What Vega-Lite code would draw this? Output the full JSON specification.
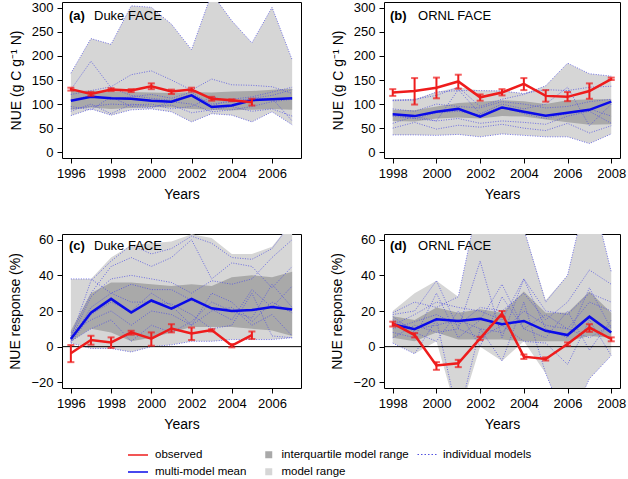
{
"$schema": "https://vega.github.io/schema/vega-lite/v6.json",
"padding": {"left": 8, "top": 1, "right": 4, "bottom": 2},
"background": "white",
"columns": 2,
"spacing": {"row": 76, "column": 83},
"bounds": "flush",
"resolve": {"scale": {"color": "shared", "fill": "shared", "stroke": "shared", "x": "independent", "y": "independent"}, "legend": {"color": "shared", "fill": "shared", "stroke": "shared"}},
"data": {"values": [
{"p":"a","year":1996,"lo":76,"hi":164,"q1":88,"q3":127,"mean":107,"obs":131,"olo":128,"ohi":134,"m1":164,"m2":130,"m3":120,"m4":76,"m5":85,"m6":95,"m7":108,"m8":90},
{"p":"a","year":1997,"lo":90,"hi":236,"q1":93,"q3":128,"mean":115,"obs":121,"olo":117,"ohi":125,"m1":236,"m2":189,"m3":128,"m4":90,"m5":100,"m6":88,"m7":118,"m8":95},
{"p":"a","year":1998,"lo":77,"hi":224,"q1":90,"q3":126,"mean":112,"obs":130,"olo":127,"ohi":133,"m1":224,"m2":134,"m3":136,"m4":77,"m5":80,"m6":115,"m7":110,"m8":100},
{"p":"a","year":1999,"lo":88,"hi":304,"q1":92,"q3":125,"mean":111,"obs":128,"olo":125,"ohi":131,"m1":304,"m2":118,"m3":161,"m4":88,"m5":100,"m6":95,"m7":115,"m8":98},
{"p":"a","year":2000,"lo":90,"hi":301,"q1":94,"q3":124,"mean":107,"obs":137,"olo":131,"ohi":143,"m1":301,"m2":112,"m3":169,"m4":90,"m5":95,"m6":92,"m7":120,"m8":100},
{"p":"a","year":2001,"lo":84,"hi":266,"q1":93,"q3":123,"mean":105,"obs":126,"olo":121,"ohi":130,"m1":266,"m2":108,"m3":150,"m4":84,"m5":98,"m6":105,"m7":112,"m8":90},
{"p":"a","year":2002,"lo":63,"hi":213,"q1":90,"q3":125,"mean":118,"obs":130,"olo":126,"ohi":134,"m1":213,"m2":120,"m3":129,"m4":63,"m5":82,"m6":100,"m7":125,"m8":95},
{"p":"a","year":2003,"lo":80,"hi":330,"q1":88,"q3":124,"mean":94,"obs":111,"olo":107,"ohi":115,"m1":330,"m2":100,"m3":152,"m4":80,"m5":88,"m6":84,"m7":96,"m8":115},
{"p":"a","year":2004,"lo":77,"hi":273,"q1":87,"q3":126,"mean":97,"obs":108,"olo":106,"ohi":110,"m1":273,"m2":105,"m3":140,"m4":77,"m5":95,"m6":88,"m7":110,"m8":105},
{"p":"a","year":2005,"lo":63,"hi":227,"q1":88,"q3":127,"mean":108,"obs":104,"olo":97,"ohi":111,"m1":227,"m2":112,"m3":139,"m4":63,"m5":85,"m6":95,"m7":115,"m8":110},
{"p":"a","year":2006,"lo":84,"hi":301,"q1":90,"q3":130,"mean":110,"m1":301,"m2":118,"m3":136,"m4":84,"m5":90,"m6":105,"m7":125,"m8":112},
{"p":"a","year":2007,"lo":57,"hi":192,"q1":88,"q3":132,"mean":112,"m1":192,"m2":130,"m3":122,"m4":57,"m5":75,"m6":110,"m7":135,"m8":65},
{"p":"b","year":1998,"lo":36,"hi":110,"q1":65,"q3":88,"mean":79,"obs":124,"olo":117,"ohi":131,"m1":36,"m2":50,"m3":108,"m4":80,"m5":107,"m6":75,"m7":90,"m8":60},
{"p":"b","year":1999,"lo":36,"hi":110,"q1":64,"q3":87,"mean":75,"obs":127,"olo":99,"ohi":154,"m1":36,"m2":62,"m3":110,"m4":70,"m5":108,"m6":70,"m7":85,"m8":75},
{"p":"b","year":2000,"lo":35,"hi":125,"q1":70,"q3":95,"mean":84,"obs":134,"olo":112,"ohi":155,"m1":35,"m2":48,"m3":118,"m4":65,"m5":125,"m6":82,"m7":100,"m8":65},
{"p":"b","year":2001,"lo":37,"hi":135,"q1":72,"q3":102,"mean":90,"obs":147,"olo":132,"ohi":161,"m1":37,"m2":56,"m3":135,"m4":130,"m5":128,"m6":85,"m7":95,"m8":70},
{"p":"b","year":2002,"lo":32,"hi":128,"q1":70,"q3":105,"mean":74,"obs":114,"olo":107,"ohi":120,"m1":32,"m2":52,"m3":95,"m4":80,"m5":128,"m6":78,"m7":92,"m8":60},
{"p":"b","year":2003,"lo":38,"hi":128,"q1":75,"q3":108,"mean":93,"obs":124,"olo":118,"ohi":131,"m1":38,"m2":58,"m3":110,"m4":100,"m5":127,"m6":95,"m7":105,"m8":65},
{"p":"b","year":2004,"lo":35,"hi":122,"q1":74,"q3":106,"mean":84,"obs":142,"olo":129,"ohi":154,"m1":35,"m2":50,"m3":120,"m4":90,"m5":122,"m6":80,"m7":100,"m8":62},
{"p":"b","year":2005,"lo":32,"hi":138,"q1":68,"q3":100,"mean":76,"obs":117,"olo":105,"ohi":129,"m1":32,"m2":45,"m3":138,"m4":100,"m5":130,"m6":70,"m7":92,"m8":58},
{"p":"b","year":2006,"lo":32,"hi":185,"q1":62,"q3":108,"mean":82,"obs":115,"olo":106,"ohi":125,"m1":32,"m2":60,"m3":185,"m4":135,"m5":128,"m6":80,"m7":95,"m8":75},
{"p":"b","year":2007,"lo":18,"hi":163,"q1":57,"q3":110,"mean":88,"obs":127,"olo":111,"ohi":143,"m1":18,"m2":40,"m3":163,"m4":55,"m5":135,"m6":90,"m7":105,"m8":85},
{"p":"b","year":2008,"lo":38,"hi":158,"q1":58,"q3":110,"mean":105,"obs":152,"olo":150,"ohi":155,"m1":38,"m2":55,"m3":158,"m4":100,"m5":137,"m6":75,"m7":110,"m8":60},
{"p":"c","year":1996,"lo":2,"hi":38,"q1":3,"q3":9,"mean":4.3,"obs":-3.7,"olo":-8.7,"ohi":0.9,"m1":5,"m2":6,"m3":4,"m4":3,"m5":2,"m6":8,"m7":38,"m8":2,"m9":3},
{"p":"c","year":1997,"lo":-1,"hi":38,"q1":10,"q3":30,"mean":19.1,"obs":3.7,"olo":1.1,"ohi":6.1,"m1":37,"m2":30,"m3":28,"m4":22,"m5":18,"m6":15,"m7":38,"m8":-1,"m9":10},
{"p":"c","year":1998,"lo":-1,"hi":50,"q1":8,"q3":36,"mean":26.8,"obs":2.4,"olo":-0.7,"ohi":5.2,"m1":48,"m2":45,"m3":38,"m4":30,"m5":25,"m6":20,"m7":30,"m8":-1,"m9":15},
{"p":"c","year":1999,"lo":-3,"hi":57,"q1":3,"q3":36,"mean":19.1,"obs":8,"olo":6.7,"ohi":8.9,"m1":57,"m2":50,"m3":40,"m4":35,"m5":20,"m6":12,"m7":25,"m8":-3,"m9":3},
{"p":"c","year":2000,"lo":0,"hi":58,"q1":5,"q3":35,"mean":25.9,"obs":4.5,"olo":0.5,"ohi":8,"m1":52,"m2":45,"m3":38,"m4":32,"m5":30,"m6":20,"m7":25,"m8":0,"m9":12},
{"p":"c","year":2001,"lo":1,"hi":59,"q1":8,"q3":34,"mean":21.3,"obs":10.2,"olo":8,"ohi":12.6,"m1":55,"m2":50,"m3":36,"m4":32,"m5":23,"m6":18,"m7":24,"m8":1,"m9":8},
{"p":"c","year":2002,"lo":3,"hi":63,"q1":11,"q3":35,"mean":26.8,"obs":7.4,"olo":3.7,"ohi":10.7,"m1":62,"m2":60,"m3":30,"m4":26,"m5":12,"m6":12,"m7":18,"m8":3,"m9":14},
{"p":"c","year":2003,"lo":3,"hi":61,"q1":11,"q3":34,"mean":21.5,"obs":9.3,"olo":8.5,"ohi":9.8,"m1":58,"m2":38,"m3":37,"m4":21,"m5":30,"m6":20,"m7":10,"m8":3,"m9":25},
{"p":"c","year":2004,"lo":4,"hi":52,"q1":11,"q3":39,"mean":20,"obs":0.6,"olo":-0.4,"ohi":1.5,"m1":50,"m2":47,"m3":35,"m4":15,"m5":25,"m6":22,"m7":12,"m8":4,"m9":20},
{"p":"c","year":2005,"lo":4,"hi":52,"q1":10,"q3":40,"mean":20.5,"obs":6.5,"olo":4.3,"ohi":8.5,"m1":49,"m2":45,"m3":38,"m4":32,"m5":14,"m6":12,"m7":30,"m8":4,"m9":16},
{"p":"c","year":2006,"lo":4,"hi":56,"q1":9,"q3":39,"mean":22.2,"m1":55,"m2":33,"m3":50,"m4":22,"m5":25,"m6":18,"m7":6,"m8":4,"m9":35},
{"p":"c","year":2007,"lo":5,"hi":70,"q1":6,"q3":42,"mean":20.9,"m1":70,"m2":45,"m3":60,"m4":34,"m5":19,"m6":6,"m7":5,"m8":5,"m9":22},
{"p":"d","year":1998,"lo":2,"hi":20,"q1":5,"q3":17,"mean":12.6,"obs":13,"olo":11.3,"ohi":14,"m1":18,"m2":19,"m3":2,"m4":12,"m5":8,"m6":15,"m7":5,"m8":10,"m9":17},
{"p":"d","year":1999,"lo":-4,"hi":30,"q1":3,"q3":15,"mean":9.8,"obs":6.5,"olo":5.2,"ohi":7.6,"m1":20,"m2":25,"m3":-4,"m4":18,"m5":5,"m6":10,"m7":12,"m8":14,"m9":8},
{"p":"d","year":2000,"lo":3,"hi":37,"q1":8,"q3":22,"mean":15.4,"obs":-10.6,"olo":-13,"ohi":-8.7,"m1":37,"m2":22,"m3":15,"m4":25,"m5":30,"m6":12,"m7":8,"m8":18,"m9":3},
{"p":"d","year":2001,"lo":-40,"hi":28,"q1":4,"q3":19,"mean":14.4,"obs":-9.3,"olo":-11.5,"ohi":-7.4,"m1":10,"m2":28,"m3":-40,"m4":22,"m5":5,"m6":15,"m7":10,"m8":12,"m9":20},
{"p":"d","year":2002,"lo":0,"hi":86,"q1":4,"q3":21,"mean":15.7,"obs":4.6,"olo":3.7,"ohi":5.5,"m1":48,"m2":86,"m3":10,"m4":20,"m5":15,"m6":10,"m7":5,"m8":22,"m9":0},
{"p":"d","year":2003,"lo":-8,"hi":110,"q1":4,"q3":19,"mean":12.6,"obs":18.5,"olo":16.7,"ohi":20,"m1":5,"m2":110,"m3":-8,"m4":15,"m5":35,"m6":8,"m7":12,"m8":20,"m9":28},
{"p":"d","year":2004,"lo":3,"hi":66,"q1":3,"q3":31,"mean":14.4,"obs":-5.6,"olo":-6.9,"ohi":-4.4,"m1":38,"m2":66,"m3":25,"m4":38,"m5":10,"m6":20,"m7":3,"m8":30,"m9":10},
{"p":"d","year":2005,"lo":-15,"hi":26,"q1":3,"q3":19,"mean":8.9,"obs":-6.9,"olo":-7.8,"ohi":-6,"m1":10,"m2":25,"m3":-15,"m4":20,"m5":5,"m6":12,"m7":2,"m8":15,"m9":18},
{"p":"d","year":2006,"lo":-45,"hi":40,"q1":3,"q3":19,"mean":6.5,"obs":1.5,"olo":0.5,"ohi":2.4,"m1":5,"m2":40,"m3":-45,"m4":18,"m5":20,"m6":10,"m7":-10,"m8":25,"m9":10},
{"p":"d","year":2007,"lo":-18,"hi":92,"q1":6,"q3":31,"mean":16.8,"obs":10.7,"olo":8.3,"ohi":12.6,"m1":33,"m2":92,"m3":-18,"m4":30,"m5":-2,"m6":25,"m7":15,"m8":43,"m9":5},
{"p":"d","year":2008,"lo":-5,"hi":42,"q1":5,"q3":19,"mean":7.9,"obs":4.3,"olo":3,"ohi":5.2,"m1":10,"m2":42,"m3":-5,"m4":25,"m5":15,"m6":20,"m7":-5,"m8":35,"m9":12}
]},
"concat": [
{
 "width": 239, "height": 156,
 "transform": [{"filter": "datum.p == 'a'"}],
 "layer": [
  {"mark": {"type": "area", "clip": true, "opacity": 1},
   "encoding": {
    "x": {"field": "year", "type": "quantitative", "title": "Years", "scale": {"domain": [1995.56, 2007.44], "nice": false, "zero": false}, "axis": {"values": [1996, 1998, 2000, 2002, 2004, 2006], "tickCount": 20, "format": "d", "labelOverlap": false}},
    "y": {"field": "lo", "type": "quantitative", "title": "NUE (g C g⁻¹ N)", "scale": {"domain": [-12, 312], "nice": false, "zero": false}, "axis": {"values": [0, 50, 100, 150, 200, 250, 300], "tickCount": 20, "labelOverlap": false}},
    "y2": {"field": "hi"},
    "fill": {"datum": "model range", "type": "nominal",
      "scale": {"domain": ["interquartile model range", "model range"], "range": ["#a9a9a9", "#d6d6d6"]},
      "legend": {"title": null, "orient": "none", "legendX": 201, "legendY": 447, "direction": "vertical", "symbolType": "square", "symbolSize": 49, "symbolStrokeWidth": 0, "labelFontSize": 11.5, "labelColor": "black", "rowPadding": 4, "labelOffset": 7}}
   }},
  {"mark": {"type": "area", "clip": true, "opacity": 1},
   "encoding": {
    "x": {"field": "year", "type": "quantitative", "title": "Years"},
    "y": {"field": "q1", "type": "quantitative", "title": "NUE (g C g⁻¹ N)"},
    "y2": {"field": "q3"},
    "fill": {"datum": "interquartile model range", "type": "nominal", "legend": null}}},
  {"transform": [{"fold": ["m1", "m2", "m3", "m4", "m5", "m6", "m7", "m8", "m9"], "as": ["model", "v"]}, {"filter": "isValid(datum.v)"}],
   "mark": {"type": "line", "clip": true, "strokeWidth": 0.8, "strokeDash": [1, 1.5]},
   "encoding": {
    "x": {"field": "year", "type": "quantitative", "title": "Years"},
    "y": {"field": "v", "type": "quantitative", "title": "NUE (g C g⁻¹ N)"},
    "detail": {"field": "model"},
    "stroke": {"datum": "individual models", "type": "nominal",
      "scale": {"domain": ["individual models"], "range": ["#5252e0"]},
      "legend": {"title": null, "orient": "none", "legendX": 355, "legendY": 442, "direction": "vertical", "symbolType": "stroke", "symbolSize": 400, "symbolStrokeWidth": 1, "symbolDash": [1.5, 2], "labelFontSize": 11.5, "labelColor": "black", "labelOffset": 5}}}},
  {"mark": {"type": "line", "strokeWidth": 2.5},
   "encoding": {
    "x": {"field": "year", "type": "quantitative", "title": "Years"},
    "y": {"field": "mean", "type": "quantitative", "title": "NUE (g C g⁻¹ N)"},
    "color": {"datum": "multi-model mean", "type": "nominal",
      "scale": {"domain": ["observed", "multi-model mean"], "range": ["#ee1c1c", "#0a0ae8"]},
      "legend": {"title": null, "orient": "none", "legendX": 65, "legendY": 442, "direction": "vertical", "symbolType": "stroke", "symbolSize": 400, "symbolStrokeWidth": 1.5, "labelFontSize": 11.5, "labelColor": "black", "rowPadding": -3, "labelOffset": 6}}}},
  {"mark": {"type": "rule", "strokeWidth": 2, "color": "#ee1c1c"},
   "encoding": {
    "x": {"field": "year", "type": "quantitative", "title": "Years"},
    "y": {"field": "olo", "type": "quantitative", "title": "NUE (g C g⁻¹ N)"},
    "y2": {"field": "ohi"}}},
  {"mark": {"type": "tick", "orient": "horizontal", "thickness": 2, "size": 7, "color": "#ee1c1c"},
   "encoding": {
    "x": {"field": "year", "type": "quantitative", "title": "Years"},
    "y": {"field": "olo", "type": "quantitative", "title": "NUE (g C g⁻¹ N)"}}},
  {"mark": {"type": "tick", "orient": "horizontal", "thickness": 2, "size": 7, "color": "#ee1c1c"},
   "encoding": {
    "x": {"field": "year", "type": "quantitative", "title": "Years"},
    "y": {"field": "ohi", "type": "quantitative", "title": "NUE (g C g⁻¹ N)"}}},
  {"mark": {"type": "line", "strokeWidth": 2.5},
   "encoding": {
    "x": {"field": "year", "type": "quantitative", "title": "Years"},
    "y": {"field": "obs", "type": "quantitative", "title": "NUE (g C g⁻¹ N)"},
    "color": {"datum": "observed", "type": "nominal", "legend": null}}},
  {"data": {"values": [{}]},
   "mark": {"type": "text", "align": "left", "baseline": "middle", "fontWeight": "bold", "fontSize": 13, "color": "black"},
   "encoding": {"x": {"datum": 1995.91, "type": "quantitative", "title": "Years"}, "y": {"datum": 283, "type": "quantitative", "title": "NUE (g C g⁻¹ N)"}, "text": {"value": "(a)"}}},
  {"data": {"values": [{}]},
   "mark": {"type": "text", "align": "left", "baseline": "middle", "fontSize": 13, "color": "black"},
   "encoding": {"x": {"datum": 1997.15, "type": "quantitative", "title": "Years"}, "y": {"datum": 283, "type": "quantitative", "title": "NUE (g C g⁻¹ N)"}, "text": {"value": "Duke FACE"}}}
 ]
},
{
 "width": 236, "height": 156,
 "transform": [{"filter": "datum.p == 'b'"}],
 "layer": [
  {"mark": {"type": "area", "clip": true, "opacity": 1},
   "encoding": {
    "x": {"field": "year", "type": "quantitative", "title": "Years", "scale": {"domain": [1997.6, 2008.4], "nice": false, "zero": false}, "axis": {"values": [1998, 2000, 2002, 2004, 2006, 2008], "tickCount": 20, "format": "d", "labelOverlap": false}},
    "y": {"field": "lo", "type": "quantitative", "title": "NUE (g C g⁻¹ N)", "scale": {"domain": [-12, 312], "nice": false, "zero": false}, "axis": {"values": [0, 50, 100, 150, 200, 250, 300], "tickCount": 20, "labelOverlap": false}},
    "y2": {"field": "hi"},
    "fill": {"datum": "model range", "type": "nominal", "legend": null}}},
  {"mark": {"type": "area", "clip": true, "opacity": 1},
   "encoding": {
    "x": {"field": "year", "type": "quantitative", "title": "Years"},
    "y": {"field": "q1", "type": "quantitative", "title": "NUE (g C g⁻¹ N)"},
    "y2": {"field": "q3"},
    "fill": {"datum": "interquartile model range", "type": "nominal", "legend": null}}},
  {"transform": [{"fold": ["m1", "m2", "m3", "m4", "m5", "m6", "m7", "m8", "m9"], "as": ["model", "v"]}, {"filter": "isValid(datum.v)"}],
   "mark": {"type": "line", "clip": true, "strokeWidth": 0.8, "strokeDash": [1, 1.5]},
   "encoding": {
    "x": {"field": "year", "type": "quantitative", "title": "Years"},
    "y": {"field": "v", "type": "quantitative", "title": "NUE (g C g⁻¹ N)"},
    "detail": {"field": "model"},
    "stroke": {"datum": "individual models", "type": "nominal", "legend": null}}},
  {"mark": {"type": "line", "strokeWidth": 2.5},
   "encoding": {
    "x": {"field": "year", "type": "quantitative", "title": "Years"},
    "y": {"field": "mean", "type": "quantitative", "title": "NUE (g C g⁻¹ N)"},
    "color": {"datum": "multi-model mean", "type": "nominal", "legend": null}}},
  {"mark": {"type": "rule", "strokeWidth": 2, "color": "#ee1c1c"},
   "encoding": {
    "x": {"field": "year", "type": "quantitative", "title": "Years"},
    "y": {"field": "olo", "type": "quantitative", "title": "NUE (g C g⁻¹ N)"},
    "y2": {"field": "ohi"}}},
  {"mark": {"type": "tick", "orient": "horizontal", "thickness": 2, "size": 7, "color": "#ee1c1c"},
   "encoding": {
    "x": {"field": "year", "type": "quantitative", "title": "Years"},
    "y": {"field": "olo", "type": "quantitative", "title": "NUE (g C g⁻¹ N)"}}},
  {"mark": {"type": "tick", "orient": "horizontal", "thickness": 2, "size": 7, "color": "#ee1c1c"},
   "encoding": {
    "x": {"field": "year", "type": "quantitative", "title": "Years"},
    "y": {"field": "ohi", "type": "quantitative", "title": "NUE (g C g⁻¹ N)"}}},
  {"mark": {"type": "line", "strokeWidth": 2.5},
   "encoding": {
    "x": {"field": "year", "type": "quantitative", "title": "Years"},
    "y": {"field": "obs", "type": "quantitative", "title": "NUE (g C g⁻¹ N)"},
    "color": {"datum": "observed", "type": "nominal", "legend": null}}},
  {"data": {"values": [{}]},
   "mark": {"type": "text", "align": "left", "baseline": "middle", "fontWeight": "bold", "fontSize": 13, "color": "black"},
   "encoding": {"x": {"datum": 1997.87, "type": "quantitative", "title": "Years"}, "y": {"datum": 283, "type": "quantitative", "title": "NUE (g C g⁻¹ N)"}, "text": {"value": "(b)"}}},
  {"data": {"values": [{}]},
   "mark": {"type": "text", "align": "left", "baseline": "middle", "fontSize": 13, "color": "black"},
   "encoding": {"x": {"datum": 1999.16, "type": "quantitative", "title": "Years"}, "y": {"datum": 283, "type": "quantitative", "title": "NUE (g C g⁻¹ N)"}, "text": {"value": "ORNL FACE"}}}
 ]
},
{
 "width": 239, "height": 154,
 "transform": [{"filter": "datum.p == 'c'"}],
 "layer": [
  {"mark": {"type": "area", "clip": true, "opacity": 1},
   "encoding": {
    "x": {"field": "year", "type": "quantitative", "title": "Years", "scale": {"domain": [1995.56, 2007.44], "nice": false, "zero": false}, "axis": {"values": [1996, 1998, 2000, 2002, 2004, 2006], "tickCount": 20, "format": "d", "labelOverlap": false}},
    "y": {"field": "lo", "type": "quantitative", "title": "NUE response (%)", "scale": {"domain": [-23.2, 63.2], "nice": false, "zero": false}, "axis": {"values": [-20, 0, 20, 40, 60], "tickCount": 20, "labelOverlap": false}},
    "y2": {"field": "hi"},
    "fill": {"datum": "model range", "type": "nominal", "legend": null}}},
  {"mark": {"type": "area", "clip": true, "opacity": 1},
   "encoding": {
    "x": {"field": "year", "type": "quantitative", "title": "Years"},
    "y": {"field": "q1", "type": "quantitative", "title": "NUE response (%)"},
    "y2": {"field": "q3"},
    "fill": {"datum": "interquartile model range", "type": "nominal", "legend": null}}},
  {"transform": [{"fold": ["m1", "m2", "m3", "m4", "m5", "m6", "m7", "m8", "m9"], "as": ["model", "v"]}, {"filter": "isValid(datum.v)"}],
   "mark": {"type": "line", "clip": true, "strokeWidth": 0.8, "strokeDash": [1, 1.5]},
   "encoding": {
    "x": {"field": "year", "type": "quantitative", "title": "Years"},
    "y": {"field": "v", "type": "quantitative", "title": "NUE response (%)"},
    "detail": {"field": "model"},
    "stroke": {"datum": "individual models", "type": "nominal", "legend": null}}},
  {"data": {"values": [{}]},
   "mark": {"type": "rule", "color": "black", "strokeWidth": 1},
   "encoding": {"y": {"datum": 0, "type": "quantitative", "title": "NUE response (%)"}}},
  {"mark": {"type": "line", "strokeWidth": 2.5},
   "encoding": {
    "x": {"field": "year", "type": "quantitative", "title": "Years"},
    "y": {"field": "mean", "type": "quantitative", "title": "NUE response (%)"},
    "color": {"datum": "multi-model mean", "type": "nominal", "legend": null}}},
  {"mark": {"type": "rule", "strokeWidth": 2, "color": "#ee1c1c"},
   "encoding": {
    "x": {"field": "year", "type": "quantitative", "title": "Years"},
    "y": {"field": "olo", "type": "quantitative", "title": "NUE response (%)"},
    "y2": {"field": "ohi"}}},
  {"mark": {"type": "tick", "orient": "horizontal", "thickness": 2, "size": 7, "color": "#ee1c1c"},
   "encoding": {
    "x": {"field": "year", "type": "quantitative", "title": "Years"},
    "y": {"field": "olo", "type": "quantitative", "title": "NUE response (%)"}}},
  {"mark": {"type": "tick", "orient": "horizontal", "thickness": 2, "size": 7, "color": "#ee1c1c"},
   "encoding": {
    "x": {"field": "year", "type": "quantitative", "title": "Years"},
    "y": {"field": "ohi", "type": "quantitative", "title": "NUE response (%)"}}},
  {"mark": {"type": "line", "strokeWidth": 2.5},
   "encoding": {
    "x": {"field": "year", "type": "quantitative", "title": "Years"},
    "y": {"field": "obs", "type": "quantitative", "title": "NUE response (%)"},
    "color": {"datum": "observed", "type": "nominal", "legend": null}}},
  {"data": {"values": [{}]},
   "mark": {"type": "text", "align": "left", "baseline": "middle", "fontWeight": "bold", "fontSize": 13, "color": "black"},
   "encoding": {"x": {"datum": 1995.91, "type": "quantitative", "title": "Years"}, "y": {"datum": 56.5, "type": "quantitative", "title": "NUE response (%)"}, "text": {"value": "(c)"}}},
  {"data": {"values": [{}]},
   "mark": {"type": "text", "align": "left", "baseline": "middle", "fontSize": 13, "color": "black"},
   "encoding": {"x": {"datum": 1997.15, "type": "quantitative", "title": "Years"}, "y": {"datum": 56.5, "type": "quantitative", "title": "NUE response (%)"}, "text": {"value": "Duke FACE"}}}
 ]
},
{
 "width": 236, "height": 154,
 "transform": [{"filter": "datum.p == 'd'"}],
 "layer": [
  {"mark": {"type": "area", "clip": true, "opacity": 1},
   "encoding": {
    "x": {"field": "year", "type": "quantitative", "title": "Years", "scale": {"domain": [1997.6, 2008.4], "nice": false, "zero": false}, "axis": {"values": [1998, 2000, 2002, 2004, 2006, 2008], "tickCount": 20, "format": "d", "labelOverlap": false}},
    "y": {"field": "lo", "type": "quantitative", "title": "NUE response (%)", "scale": {"domain": [-23.2, 63.2], "nice": false, "zero": false}, "axis": {"values": [-20, 0, 20, 40, 60], "tickCount": 20, "labelOverlap": false}},
    "y2": {"field": "hi"},
    "fill": {"datum": "model range", "type": "nominal", "legend": null}}},
  {"mark": {"type": "area", "clip": true, "opacity": 1},
   "encoding": {
    "x": {"field": "year", "type": "quantitative", "title": "Years"},
    "y": {"field": "q1", "type": "quantitative", "title": "NUE response (%)"},
    "y2": {"field": "q3"},
    "fill": {"datum": "interquartile model range", "type": "nominal", "legend": null}}},
  {"transform": [{"fold": ["m1", "m2", "m3", "m4", "m5", "m6", "m7", "m8", "m9"], "as": ["model", "v"]}, {"filter": "isValid(datum.v)"}],
   "mark": {"type": "line", "clip": true, "strokeWidth": 0.8, "strokeDash": [1, 1.5]},
   "encoding": {
    "x": {"field": "year", "type": "quantitative", "title": "Years"},
    "y": {"field": "v", "type": "quantitative", "title": "NUE response (%)"},
    "detail": {"field": "model"},
    "stroke": {"datum": "individual models", "type": "nominal", "legend": null}}},
  {"data": {"values": [{}]},
   "mark": {"type": "rule", "color": "black", "strokeWidth": 1},
   "encoding": {"y": {"datum": 0, "type": "quantitative", "title": "NUE response (%)"}}},
  {"mark": {"type": "line", "strokeWidth": 2.5},
   "encoding": {
    "x": {"field": "year", "type": "quantitative", "title": "Years"},
    "y": {"field": "mean", "type": "quantitative", "title": "NUE response (%)"},
    "color": {"datum": "multi-model mean", "type": "nominal", "legend": null}}},
  {"mark": {"type": "rule", "strokeWidth": 2, "color": "#ee1c1c"},
   "encoding": {
    "x": {"field": "year", "type": "quantitative", "title": "Years"},
    "y": {"field": "olo", "type": "quantitative", "title": "NUE response (%)"},
    "y2": {"field": "ohi"}}},
  {"mark": {"type": "tick", "orient": "horizontal", "thickness": 2, "size": 7, "color": "#ee1c1c"},
   "encoding": {
    "x": {"field": "year", "type": "quantitative", "title": "Years"},
    "y": {"field": "olo", "type": "quantitative", "title": "NUE response (%)"}}},
  {"mark": {"type": "tick", "orient": "horizontal", "thickness": 2, "size": 7, "color": "#ee1c1c"},
   "encoding": {
    "x": {"field": "year", "type": "quantitative", "title": "Years"},
    "y": {"field": "ohi", "type": "quantitative", "title": "NUE response (%)"}}},
  {"mark": {"type": "line", "strokeWidth": 2.5},
   "encoding": {
    "x": {"field": "year", "type": "quantitative", "title": "Years"},
    "y": {"field": "obs", "type": "quantitative", "title": "NUE response (%)"},
    "color": {"datum": "observed", "type": "nominal", "legend": null}}},
  {"data": {"values": [{}]},
   "mark": {"type": "text", "align": "left", "baseline": "middle", "fontWeight": "bold", "fontSize": 13, "color": "black"},
   "encoding": {"x": {"datum": 1997.87, "type": "quantitative", "title": "Years"}, "y": {"datum": 56.5, "type": "quantitative", "title": "NUE response (%)"}, "text": {"value": "(d)"}}},
  {"data": {"values": [{}]},
   "mark": {"type": "text", "align": "left", "baseline": "middle", "fontSize": 13, "color": "black"},
   "encoding": {"x": {"datum": 1999.16, "type": "quantitative", "title": "Years"}, "y": {"datum": 56.5, "type": "quantitative", "title": "NUE response (%)"}, "text": {"value": "ORNL FACE"}}}
 ]
}
],
"config": {
 "font": "Liberation Sans",
 "view": {"stroke": "black", "strokeWidth": 1},
 "axis": {"domain": false, "grid": false, "ticks": true, "tickColor": "black", "tickSize": 5, "labelFontSize": 13, "labelColor": "black", "labelFlush": false, "labelOverlap": false, "labelBound": false, "labelPadding": 4, "titleFontSize": 14, "titleFontWeight": "normal", "titleColor": "black"},
 "axisX": {"titlePadding": 7},
 "axisY": {"titlePadding": 8, "labelOverlap": false},
 "legend": {"labelFont": "Liberation Sans"}
}
}
